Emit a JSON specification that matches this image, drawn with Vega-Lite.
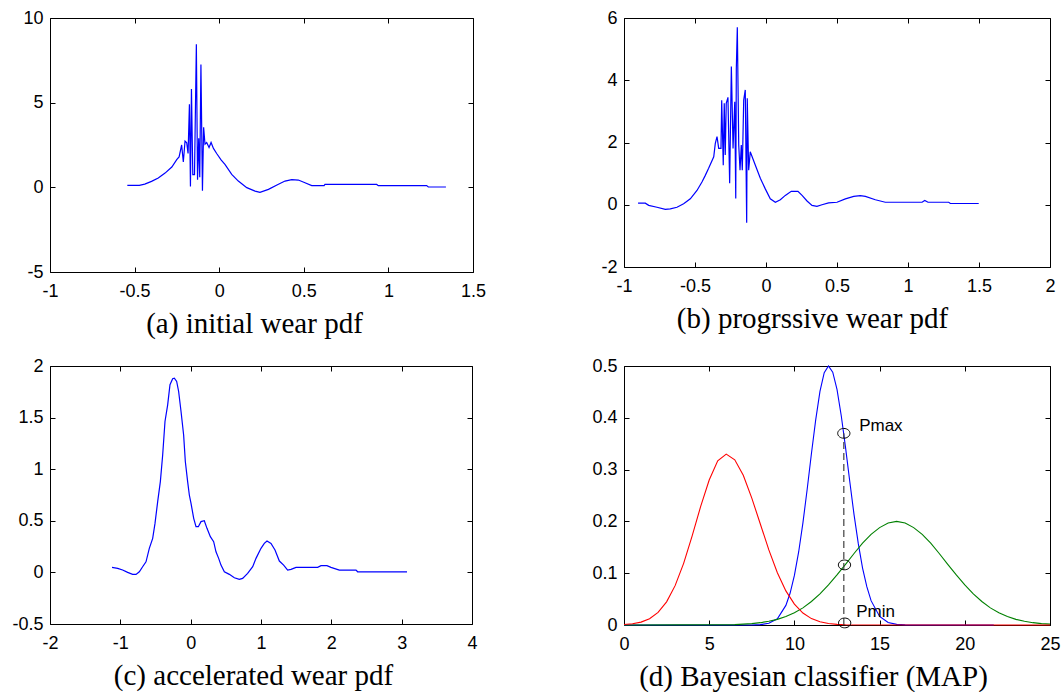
{
  "$schema": "https://vega.github.io/schema/vega-lite/v6.json",
  "background": "white",
  "padding": {"left": 11, "top": 8, "right": 0, "bottom": 0},
  "columns": 2,
  "align": "each",
  "bounds": "flush",
  "spacing": {"row": 94, "column": 151},
  "datasets": {
    "initial": [
      {"x": -0.543, "y": 0.12}, {"x": -0.472, "y": 0.12}, {"x": -0.44, "y": 0.19}, {"x": -0.4, "y": 0.35},
      {"x": -0.36, "y": 0.55}, {"x": -0.32, "y": 0.84}, {"x": -0.28, "y": 1.2}, {"x": -0.25, "y": 1.65},
      {"x": -0.237, "y": 1.8}, {"x": -0.222, "y": 2.5}, {"x": -0.212, "y": 1.5}, {"x": -0.202, "y": 2.73},
      {"x": -0.192, "y": 2.63}, {"x": -0.184, "y": 2.0}, {"x": -0.176, "y": 4.9}, {"x": -0.17, "y": 0.05},
      {"x": -0.164, "y": 5.8}, {"x": -0.156, "y": 0.75}, {"x": -0.146, "y": 0.75}, {"x": -0.135, "y": 8.45},
      {"x": -0.128, "y": 0.45}, {"x": -0.121, "y": 2.9}, {"x": -0.115, "y": 0.6}, {"x": -0.108, "y": 7.25},
      {"x": -0.099, "y": -0.2}, {"x": -0.092, "y": 3.55}, {"x": -0.084, "y": 2.55}, {"x": -0.074, "y": 2.65},
      {"x": -0.06, "y": 2.35}, {"x": -0.048, "y": 2.65}, {"x": -0.034, "y": 2.3}, {"x": -0.015, "y": 2.0},
      {"x": 0.011, "y": 1.62}, {"x": 0.034, "y": 1.36}, {"x": 0.074, "y": 0.77}, {"x": 0.113, "y": 0.37},
      {"x": 0.163, "y": -0.02}, {"x": 0.212, "y": -0.22}, {"x": 0.241, "y": -0.3}, {"x": 0.291, "y": -0.12},
      {"x": 0.35, "y": 0.18}, {"x": 0.389, "y": 0.37}, {"x": 0.429, "y": 0.45}, {"x": 0.468, "y": 0.43},
      {"x": 0.507, "y": 0.27}, {"x": 0.547, "y": 0.1}, {"x": 0.62, "y": 0.1}, {"x": 0.625, "y": 0.17},
      {"x": 0.931, "y": 0.17}, {"x": 0.94, "y": 0.1}, {"x": 1.226, "y": 0.1}, {"x": 1.236, "y": 0.02},
      {"x": 1.34, "y": 0.02}
    ],
    "progressive": [
      {"x": -0.901, "y": 0.05}, {"x": -0.85, "y": 0.05}, {"x": -0.826, "y": -0.02}, {"x": -0.768, "y": -0.08},
      {"x": -0.709, "y": -0.15}, {"x": -0.674, "y": -0.13}, {"x": -0.627, "y": -0.08}, {"x": -0.58, "y": 0.03},
      {"x": -0.533, "y": 0.19}, {"x": -0.486, "y": 0.46}, {"x": -0.451, "y": 0.73}, {"x": -0.43, "y": 0.92},
      {"x": -0.404, "y": 1.17}, {"x": -0.368, "y": 1.54}, {"x": -0.357, "y": 1.97}, {"x": -0.345, "y": 2.19},
      {"x": -0.333, "y": 1.81}, {"x": -0.317, "y": 1.81}, {"x": -0.312, "y": 3.36}, {"x": -0.301, "y": 1.27},
      {"x": -0.294, "y": 3.26}, {"x": -0.287, "y": 1.6}, {"x": -0.28, "y": 3.26}, {"x": -0.268, "y": 3.45},
      {"x": -0.256, "y": 0.69}, {"x": -0.244, "y": 4.44}, {"x": -0.232, "y": 1.81}, {"x": -0.22, "y": 3.31},
      {"x": -0.213, "y": 0.2}, {"x": -0.209, "y": 4.38}, {"x": -0.202, "y": 5.7}, {"x": -0.192, "y": 1.92},
      {"x": -0.183, "y": 1.11}, {"x": -0.174, "y": 1.92}, {"x": -0.167, "y": 1.11}, {"x": -0.157, "y": 3.36},
      {"x": -0.146, "y": 3.69}, {"x": -0.136, "y": -0.58}, {"x": -0.132, "y": 3.42}, {"x": -0.122, "y": 1.11},
      {"x": -0.111, "y": 1.7}, {"x": -0.075, "y": 1.27}, {"x": -0.04, "y": 0.85}, {"x": -0.005, "y": 0.51},
      {"x": 0.03, "y": 0.19}, {"x": 0.066, "y": 0.08}, {"x": 0.101, "y": 0.16}, {"x": 0.136, "y": 0.3},
      {"x": 0.178, "y": 0.43}, {"x": 0.225, "y": 0.43}, {"x": 0.254, "y": 0.3}, {"x": 0.289, "y": 0.12},
      {"x": 0.324, "y": -0.02}, {"x": 0.359, "y": -0.05}, {"x": 0.394, "y": 0.0}, {"x": 0.441, "y": 0.06},
      {"x": 0.5, "y": 0.08}, {"x": 0.559, "y": 0.19}, {"x": 0.618, "y": 0.27}, {"x": 0.664, "y": 0.29},
      {"x": 0.7, "y": 0.27}, {"x": 0.77, "y": 0.16}, {"x": 0.84, "y": 0.08}, {"x": 1.099, "y": 0.08},
      {"x": 1.118, "y": 0.14}, {"x": 1.141, "y": 0.08}, {"x": 1.287, "y": 0.08}, {"x": 1.298, "y": 0.04},
      {"x": 1.498, "y": 0.04}
    ],
    "accelerated": [
      {"x": -1.118, "y": 0.049}, {"x": -1.038, "y": 0.039}, {"x": -0.967, "y": 0.023}, {"x": -0.896, "y": 0.0},
      {"x": -0.825, "y": -0.019}, {"x": -0.777, "y": -0.019}, {"x": -0.73, "y": 0.006}, {"x": -0.683, "y": 0.055},
      {"x": -0.635, "y": 0.103}, {"x": -0.588, "y": 0.233}, {"x": -0.54, "y": 0.33}, {"x": -0.507, "y": 0.475},
      {"x": -0.469, "y": 0.686}, {"x": -0.431, "y": 0.88}, {"x": -0.398, "y": 1.138}, {"x": -0.365, "y": 1.462},
      {"x": -0.327, "y": 1.624}, {"x": -0.294, "y": 1.818}, {"x": -0.256, "y": 1.876}, {"x": -0.232, "y": 1.882},
      {"x": -0.199, "y": 1.85}, {"x": -0.171, "y": 1.753}, {"x": -0.137, "y": 1.559}, {"x": -0.1, "y": 1.332},
      {"x": -0.076, "y": 1.074}, {"x": -0.043, "y": 0.88}, {"x": -0.019, "y": 0.75}, {"x": 0.005, "y": 0.669},
      {"x": 0.043, "y": 0.524}, {"x": 0.076, "y": 0.443}, {"x": 0.109, "y": 0.443}, {"x": 0.147, "y": 0.492},
      {"x": 0.194, "y": 0.501}, {"x": 0.232, "y": 0.427}, {"x": 0.28, "y": 0.346}, {"x": 0.327, "y": 0.298},
      {"x": 0.36, "y": 0.2}, {"x": 0.398, "y": 0.136}, {"x": 0.431, "y": 0.071}, {"x": 0.479, "y": 0.006},
      {"x": 0.55, "y": -0.019}, {"x": 0.621, "y": -0.052}, {"x": 0.692, "y": -0.068}, {"x": 0.739, "y": -0.058},
      {"x": 0.81, "y": -0.01}, {"x": 0.882, "y": 0.055}, {"x": 0.929, "y": 0.136}, {"x": 1.0, "y": 0.233},
      {"x": 1.047, "y": 0.281}, {"x": 1.085, "y": 0.304}, {"x": 1.142, "y": 0.281}, {"x": 1.199, "y": 0.217},
      {"x": 1.261, "y": 0.11}, {"x": 1.322, "y": 0.071}, {"x": 1.379, "y": 0.023}, {"x": 1.427, "y": 0.029},
      {"x": 1.498, "y": 0.049}, {"x": 1.806, "y": 0.049}, {"x": 1.853, "y": 0.065}, {"x": 1.938, "y": 0.065},
      {"x": 1.995, "y": 0.049}, {"x": 2.114, "y": 0.023}, {"x": 2.351, "y": 0.023}, {"x": 2.374, "y": 0.006},
      {"x": 3.076, "y": 0.006}
    ],
    "classifier": [
      {"cls": "progressive", "x": 0, "p": 0}, {"cls": "progressive", "x": 7.5, "p": 0},
      {"cls": "progressive", "x": 8, "p": 0.0007}, {"cls": "progressive", "x": 8.5, "p": 0.0032},
      {"cls": "progressive", "x": 9, "p": 0.0121}, {"cls": "progressive", "x": 9.5, "p": 0.0378},
      {"cls": "progressive", "x": 9.75, "p": 0.0617}, {"cls": "progressive", "x": 10, "p": 0.0958},
      {"cls": "progressive", "x": 10.25, "p": 0.141}, {"cls": "progressive", "x": 10.5, "p": 0.197},
      {"cls": "progressive", "x": 10.75, "p": 0.262}, {"cls": "progressive", "x": 11, "p": 0.331},
      {"cls": "progressive", "x": 11.25, "p": 0.396}, {"cls": "progressive", "x": 11.5, "p": 0.451},
      {"cls": "progressive", "x": 11.75, "p": 0.487}, {"cls": "progressive", "x": 12, "p": 0.5},
      {"cls": "progressive", "x": 12.25, "p": 0.488}, {"cls": "progressive", "x": 12.5, "p": 0.455},
      {"cls": "progressive", "x": 12.75, "p": 0.404}, {"cls": "progressive", "x": 13, "p": 0.343},
      {"cls": "progressive", "x": 13.25, "p": 0.277}, {"cls": "progressive", "x": 13.5, "p": 0.213},
      {"cls": "progressive", "x": 13.75, "p": 0.157}, {"cls": "progressive", "x": 14, "p": 0.11},
      {"cls": "progressive", "x": 14.25, "p": 0.074}, {"cls": "progressive", "x": 14.5, "p": 0.047},
      {"cls": "progressive", "x": 15, "p": 0.0166}, {"cls": "progressive", "x": 15.5, "p": 0.0049},
      {"cls": "progressive", "x": 16, "p": 0.0012}, {"cls": "progressive", "x": 16.5, "p": 0.0002},
      {"cls": "progressive", "x": 21.7, "p": 0},
      {"cls": "accelerated", "x": 0, "p": 0}, {"cls": "accelerated", "x": 6.5, "p": 0.0008},
      {"cls": "accelerated", "x": 7, "p": 0.0016}, {"cls": "accelerated", "x": 7.5, "p": 0.0027},
      {"cls": "accelerated", "x": 8, "p": 0.0045}, {"cls": "accelerated", "x": 8.5, "p": 0.0071},
      {"cls": "accelerated", "x": 9, "p": 0.0109}, {"cls": "accelerated", "x": 9.5, "p": 0.0162},
      {"cls": "accelerated", "x": 10, "p": 0.0235}, {"cls": "accelerated", "x": 10.5, "p": 0.0331},
      {"cls": "accelerated", "x": 11, "p": 0.0453}, {"cls": "accelerated", "x": 11.5, "p": 0.06},
      {"cls": "accelerated", "x": 12, "p": 0.0773}, {"cls": "accelerated", "x": 12.5, "p": 0.0966},
      {"cls": "accelerated", "x": 13, "p": 0.117}, {"cls": "accelerated", "x": 13.5, "p": 0.138},
      {"cls": "accelerated", "x": 14, "p": 0.158}, {"cls": "accelerated", "x": 14.5, "p": 0.175},
      {"cls": "accelerated", "x": 15, "p": 0.188}, {"cls": "accelerated", "x": 15.5, "p": 0.197},
      {"cls": "accelerated", "x": 16, "p": 0.2}, {"cls": "accelerated", "x": 16.5, "p": 0.197},
      {"cls": "accelerated", "x": 17, "p": 0.188}, {"cls": "accelerated", "x": 17.5, "p": 0.175},
      {"cls": "accelerated", "x": 18, "p": 0.158}, {"cls": "accelerated", "x": 18.5, "p": 0.138},
      {"cls": "accelerated", "x": 19, "p": 0.117}, {"cls": "accelerated", "x": 19.5, "p": 0.0966},
      {"cls": "accelerated", "x": 20, "p": 0.0773}, {"cls": "accelerated", "x": 20.5, "p": 0.06},
      {"cls": "accelerated", "x": 21, "p": 0.0453}, {"cls": "accelerated", "x": 21.5, "p": 0.0331},
      {"cls": "accelerated", "x": 22, "p": 0.0235}, {"cls": "accelerated", "x": 22.5, "p": 0.0162},
      {"cls": "accelerated", "x": 23, "p": 0.0109}, {"cls": "accelerated", "x": 23.5, "p": 0.0071},
      {"cls": "accelerated", "x": 24, "p": 0.0045}, {"cls": "accelerated", "x": 24.5, "p": 0.0027},
      {"cls": "accelerated", "x": 25, "p": 0.0016},
      {"cls": "initial", "x": 0, "p": 0.0009}, {"cls": "initial", "x": 0.5, "p": 0.0024},
      {"cls": "initial", "x": 1, "p": 0.0056}, {"cls": "initial", "x": 1.5, "p": 0.0121},
      {"cls": "initial", "x": 2, "p": 0.0242}, {"cls": "initial", "x": 2.5, "p": 0.0447},
      {"cls": "initial", "x": 3, "p": 0.076}, {"cls": "initial", "x": 3.5, "p": 0.119},
      {"cls": "initial", "x": 4, "p": 0.172}, {"cls": "initial", "x": 4.5, "p": 0.229},
      {"cls": "initial", "x": 5, "p": 0.28}, {"cls": "initial", "x": 5.5, "p": 0.317},
      {"cls": "initial", "x": 6, "p": 0.33}, {"cls": "initial", "x": 6.5, "p": 0.319},
      {"cls": "initial", "x": 7, "p": 0.289}, {"cls": "initial", "x": 7.5, "p": 0.245},
      {"cls": "initial", "x": 8, "p": 0.195}, {"cls": "initial", "x": 8.5, "p": 0.145},
      {"cls": "initial", "x": 9, "p": 0.101}, {"cls": "initial", "x": 9.5, "p": 0.0659},
      {"cls": "initial", "x": 10, "p": 0.0403}, {"cls": "initial", "x": 10.5, "p": 0.023},
      {"cls": "initial", "x": 11, "p": 0.0123}, {"cls": "initial", "x": 11.5, "p": 0.0062},
      {"cls": "initial", "x": 12, "p": 0.0029}, {"cls": "initial", "x": 12.5, "p": 0.0013},
      {"cls": "initial", "x": 13, "p": 0.0005}, {"cls": "initial", "x": 25, "p": 0}
    ],
    "decision": [{"x": 12.9, "p": 0, "p2": 0.37}],
    "probes": [
      {"x": 12.9, "p": 0.37}, {"x": 12.94, "p": 0.116}, {"x": 12.95, "p": 0.004}
    ],
    "notes": [
      {"x": 13.8, "p": 0.385, "label": "Pmax"}, {"x": 13.63, "p": 0.025, "label": "Pmin"}
    ]
  },
  "concat": [
    {
      "width": 423, "height": 254,
      "data": {"name": "initial"},
      "layer": [
        {
          "mark": {"type": "line", "color": "#0000ff", "strokeWidth": 1.2},
          "encoding": {
            "x": {"field": "x", "type": "quantitative", "scale": {"domain": [-1, 1.5], "nice": false, "zero": false},
                  "axis": {"values": [-1, -0.5, 0, 0.5, 1, 1.5], "title": "(a) initial wear pdf", "titleX": 204}},
            "y": {"field": "y", "type": "quantitative", "scale": {"domain": [-5, 10], "nice": false, "zero": false},
                  "axis": {"values": [-5, 0, 5, 10], "title": null}}
          }
        },
        {
          "mark": {"type": "line", "opacity": 0},
          "encoding": {
            "x": {"field": "x", "type": "quantitative", "axis": {"orient": "top", "values": [-1, -0.5, 0, 0.5, 1, 1.5], "labels": false, "title": null}},
            "y": {"field": "y", "type": "quantitative", "axis": {"orient": "right", "values": [-5, 0, 5, 10], "labels": false, "title": null}}
          }
        }
      ],
      "resolve": {"axis": {"x": "independent", "y": "independent"}}
    },
    {
      "width": 426, "height": 249,
      "data": {"name": "progressive"},
      "layer": [
        {
          "mark": {"type": "line", "color": "#0000ff", "strokeWidth": 1.2},
          "encoding": {
            "x": {"field": "x", "type": "quantitative", "scale": {"domain": [-1, 2], "nice": false, "zero": false},
                  "axis": {"values": [-1, -0.5, 0, 0.5, 1, 1.5, 2], "title": "(b) progrssive wear pdf", "titleX": 188}},
            "y": {"field": "y", "type": "quantitative", "scale": {"domain": [-2, 6], "nice": false, "zero": false},
                  "axis": {"values": [-2, 0, 2, 4, 6], "title": null}}
          }
        },
        {
          "mark": {"type": "line", "opacity": 0},
          "encoding": {
            "x": {"field": "x", "type": "quantitative", "axis": {"orient": "top", "values": [-1, -0.5, 0, 0.5, 1, 1.5, 2], "labels": false, "title": null}},
            "y": {"field": "y", "type": "quantitative", "axis": {"orient": "right", "values": [-2, 0, 2, 4, 6], "labels": false, "title": null}}
          }
        }
      ],
      "resolve": {"axis": {"x": "independent", "y": "independent"}}
    },
    {
      "width": 422, "height": 258,
      "data": {"name": "accelerated"},
      "layer": [
        {
          "mark": {"type": "line", "color": "#0000ff", "strokeWidth": 1.2},
          "encoding": {
            "x": {"field": "x", "type": "quantitative", "scale": {"domain": [-2, 4], "nice": false, "zero": false},
                  "axis": {"values": [-2, -1, 0, 1, 2, 3, 4], "title": "(c) accelerated wear pdf", "titleX": 203}},
            "y": {"field": "y", "type": "quantitative", "scale": {"domain": [-0.5, 2], "nice": false, "zero": false},
                  "axis": {"values": [-0.5, 0, 0.5, 1, 1.5, 2], "title": null}}
          }
        },
        {
          "mark": {"type": "line", "opacity": 0},
          "encoding": {
            "x": {"field": "x", "type": "quantitative", "axis": {"orient": "top", "values": [-2, -1, 0, 1, 2, 3, 4], "labels": false, "title": null}},
            "y": {"field": "y", "type": "quantitative", "axis": {"orient": "right", "values": [-0.5, 0, 0.5, 1, 1.5, 2], "labels": false, "title": null}}
          }
        }
      ],
      "resolve": {"axis": {"x": "independent", "y": "independent"}}
    },
    {
      "width": 426, "height": 259,
      "layer": [
        {
          "data": {"name": "classifier"},
          "mark": {"type": "line", "strokeWidth": 1.1},
          "encoding": {
            "x": {"field": "x", "type": "quantitative", "scale": {"domain": [0, 25], "nice": false, "zero": false},
                  "axis": {"values": [0, 5, 10, 15, 20, 25], "title": "(d) Bayesian classifier (MAP)", "titleX": 189}},
            "y": {"field": "p", "type": "quantitative", "scale": {"domain": [0, 0.5], "nice": false, "zero": false},
                  "axis": {"values": [0, 0.1, 0.2, 0.3, 0.4, 0.5], "title": null}},
            "color": {"field": "cls", "type": "nominal", "legend": null,
                      "scale": {"domain": ["progressive", "accelerated", "initial"], "range": ["#0000ff", "#008000", "#ff0000"]}}
          }
        },
        {
          "data": {"name": "classifier"},
          "mark": {"type": "line", "opacity": 0},
          "encoding": {
            "x": {"field": "x", "type": "quantitative", "axis": {"orient": "top", "values": [0, 5, 10, 15, 20, 25], "labels": false, "title": null}},
            "y": {"field": "p", "type": "quantitative", "axis": {"orient": "right", "values": [0, 0.1, 0.2, 0.3, 0.4, 0.5], "labels": false, "title": null}},
            "detail": {"field": "cls"}
          }
        },
        {
          "data": {"name": "decision"},
          "mark": {"type": "rule", "color": "#404040", "strokeWidth": 1.2, "strokeDash": [7, 4]},
          "encoding": {
            "x": {"field": "x", "type": "quantitative", "axis": null},
            "y": {"field": "p", "type": "quantitative", "axis": null},
            "y2": {"field": "p2"}
          }
        },
        {
          "data": {"name": "probes"},
          "mark": {"type": "point", "filled": false, "color": "black", "strokeWidth": 1, "opacity": 1, "size": 150,
                   "shape": "M-1,0C-1,-0.44,-0.55,-0.8,0,-0.8C0.55,-0.8,1,-0.44,1,0C1,0.44,0.55,0.8,0,0.8C-0.55,0.8,-1,0.44,-1,0Z"},
          "encoding": {
            "x": {"field": "x", "type": "quantitative", "axis": null},
            "y": {"field": "p", "type": "quantitative", "axis": null}
          }
        },
        {
          "data": {"name": "notes"},
          "mark": {"type": "text", "align": "left", "baseline": "middle", "font": "Liberation Sans", "fontSize": 17, "color": "black"},
          "encoding": {
            "x": {"field": "x", "type": "quantitative", "axis": null},
            "y": {"field": "p", "type": "quantitative", "axis": null},
            "text": {"field": "label"}
          }
        }
      ],
      "resolve": {"axis": {"x": "independent", "y": "independent"}}
    }
  ],
  "config": {
    "view": {"stroke": "black", "strokeWidth": 1},
    "axis": {
      "domain": false, "grid": false,
      "tickColor": "black", "tickSize": -5, "tickWidth": 1,
      "labelColor": "black", "labelFont": "Liberation Sans", "labelFontSize": 18,
      "labelFlush": false, "labelOverlap": false, "labelBound": false,
      "labelExpr": "'' + datum.value",
      "titleFont": "Liberation Serif", "titleFontSize": 29, "titleFontWeight": "normal", "titleColor": "black",
      "titlePadding": 9
    },
    "axisX": {"labelPadding": 15},
    "axisY": {"labelPadding": 12}
  }
}
